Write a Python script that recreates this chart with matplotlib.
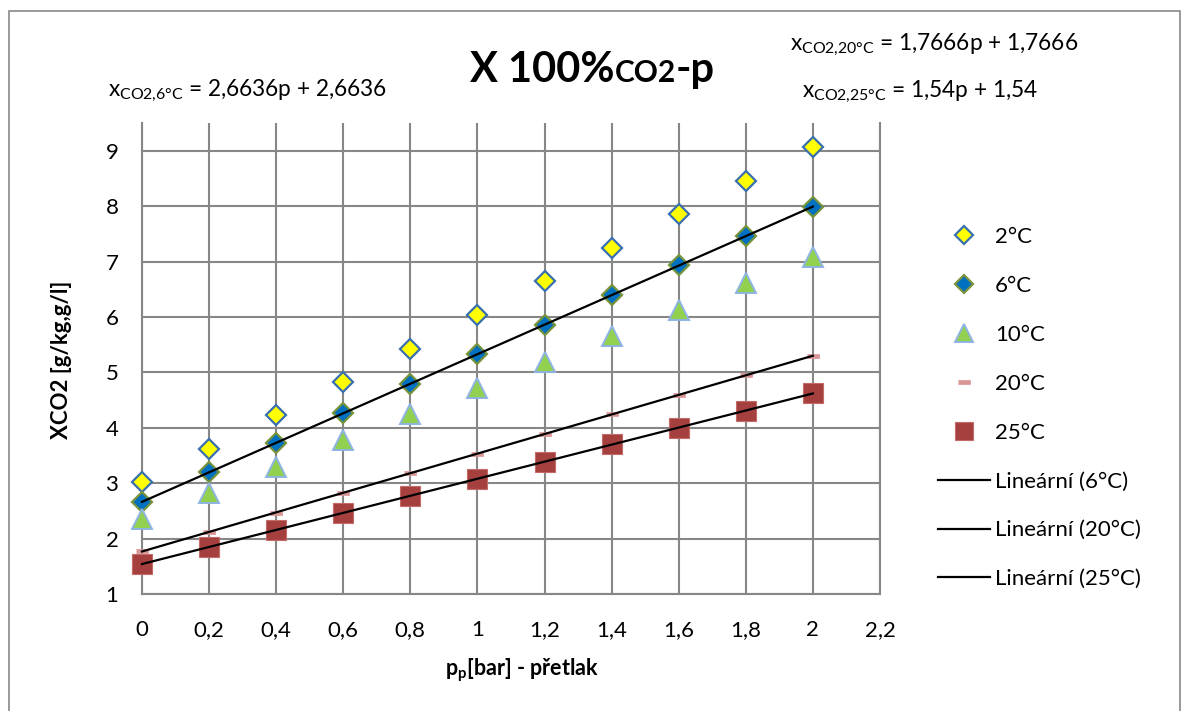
import numpy as np
import matplotlib
matplotlib.use("Agg")
import matplotlib.pyplot as plt
from matplotlib.lines import Line2D
from matplotlib.patches import Rectangle

plt.rcParams["font.family"] = ["Lato", "DejaVu Sans"]
plt.rcParams["mathtext.fontset"] = "custom"
plt.rcParams["mathtext.rm"] = "Lato"
plt.rcParams["mathtext.bf"] = "Lato:bold"
plt.rcParams["mathtext.it"] = "Lato:italic"

# gauge pressure [bar]
pressure = [0, 0.2, 0.4, 0.6, 0.8, 1.0, 1.2, 1.4, 1.6, 1.8, 2.0]
# CO2 content [g/kg, g/l] at each temperature
x_2C = [3.02, 3.62, 4.23, 4.83, 5.43, 6.04, 6.64, 7.24, 7.85, 8.45, 9.06]
x_6C = [2.66, 3.20, 3.73, 4.26, 4.79, 5.33, 5.86, 6.39, 6.93, 7.46, 7.99]
x_10C = [2.36, 2.83, 3.30, 3.78, 4.25, 4.72, 5.19, 5.66, 6.13, 6.61, 7.08]
x_20C = [1.77, 2.12, 2.47, 2.83, 3.18, 3.53, 3.89, 4.24, 4.59, 4.95, 5.30]
x_25C = [1.54, 1.85, 2.16, 2.46, 2.77, 3.08, 3.39, 3.70, 4.00, 4.31, 4.62]

x_ticks = [0, 0.2, 0.4, 0.6, 0.8, 1.0, 1.2, 1.4, 1.6, 1.8, 2.0, 2.2]
x_ticklabels = ["0", "0,2", "0,4", "0,6", "0,8", "1", "1,2", "1,4", "1,6", "1,8", "2", "2,2"]
y_ticks = [1, 2, 3, 4, 5, 6, 7, 8, 9]

W, H = 1181, 711
fig = plt.figure(figsize=(W / 100, H / 100), dpi=100)
ax = fig.add_axes([142 / W, 1 - 594 / H, (880 - 142) / W, (594 - 123) / H])

grid_c = "#878787"
ax.set_xlim(0, 2.2)
ax.set_ylim(1, 9.5)
ax.set_xticks(x_ticks)
ax.set_xticklabels(x_ticklabels)
ax.set_yticks(y_ticks)
ax.grid(True, color=grid_c, lw=1.5, zorder=0)
ax.set_axisbelow(True)
for side in ["left", "right", "bottom"]:
    ax.spines[side].set_color(grid_c)
    ax.spines[side].set_linewidth(1.5)
ax.spines["top"].set_visible(False)
ax.tick_params(length=0, labelsize=16, colors="black")
ax.tick_params(axis="x", pad=19)
ax.tick_params(axis="y", pad=17)

ms_diamond = 10.5
ax.plot(pressure, x_2C, ls="none", marker="D", ms=ms_diamond, mfc="#FFFF00",
        mec="#3A6FB0", mew=1.6, zorder=3, clip_on=False)
ax.plot(pressure, x_6C, ls="none", marker="D", ms=ms_diamond, mfc="#0070C0",
        mec="#77933C", mew=1.6, zorder=3, clip_on=False)
ax.plot(pressure, x_10C, ls="none", marker="^", ms=14, mfc="#92D050",
        mec="#8EB4E3", mew=1.4, zorder=3, clip_on=False)
dash = [(-1, -0.42), (1, -0.42), (1, 0.42), (-1, 0.42)]
ax.plot(pressure, x_20C, ls="none", marker=dash, ms=8.5, mfc="#D99694",
        mec="#D99694", mew=0.5, zorder=3, clip_on=False)
ax.plot(pressure, x_25C, ls="none", marker="s", ms=14.5, mfc="#A5403E",
        mec="#C46A68", mew=0.8, zorder=3, clip_on=False)

# linear trend lines
p_arr = np.array(pressure)
for series in (x_6C, x_20C, x_25C):
    k, q = np.polyfit(p_arr, np.array(series), 1)
    ax.plot([p_arr[0], p_arr[-1]], [q + k * p_arr[0], q + k * p_arr[-1]],
            color="black", lw=1.6, zorder=4, clip_on=False)

# legend
handles = [
    Line2D([], [], ls="none", marker="D", ms=ms_diamond * 0.85, mfc="#FFFF00", mec="#3A6FB0", mew=1.6),
    Line2D([], [], ls="none", marker="D", ms=ms_diamond * 0.85, mfc="#0070C0", mec="#77933C", mew=1.6),
    Line2D([], [], ls="none", marker="^", ms=13, mfc="#92D050", mec="#8EB4E3", mew=1.4),
    Line2D([], [], ls="none", marker=dash, ms=8, mfc="#D99694", mec="#D99694", mew=0.5),
    Line2D([], [], ls="none", marker="s", ms=13, mfc="#A5403E", mec="#C46A68", mew=0.8),
    Line2D([], [], color="black", lw=1.6),
    Line2D([], [], color="black", lw=1.6),
    Line2D([], [], color="black", lw=1.6),
]
labels = ["2°C", "6°C", "10°C", "20°C", "25°C",
          "Lineární (6°C)", "Lineární (20°C)", "Lineární (25°C)"]
fig.legend(handles, labels, loc="upper left", bbox_to_anchor=(938 / W, 1 - 227 / H),
           frameon=False, fontsize=16, borderpad=0, borderaxespad=0,
           handlelength=2.34, handletextpad=0.22, labelspacing=1.30)

# title: X 100%CO2-p
title_y = 1 - 82 / H
t1 = fig.text(470 / W, title_y, "X 100%", fontsize=30, fontweight="bold", va="baseline")
t2 = fig.text(0, 0, "CO2", fontsize=21.5, fontweight="bold", va="baseline")
t3 = fig.text(0, 0, "-p", fontsize=30, fontweight="bold", va="baseline")
fig.canvas.draw()
r = fig.canvas.get_renderer()
bb1 = t1.get_window_extent(r)
t2.set_position((bb1.x1 / W, title_y))
fig.canvas.draw()
bb2 = t2.get_window_extent(r)
t3.set_position((bb2.x1 / W, title_y))

# trend equations
eq_size = 16.3
fig.text(108 / W, 1 - 96 / H, r"x$_{\mathrm{CO2{,}6°C}}$ = 2,6636p + 2,6636", fontsize=eq_size, va="baseline")
fig.text(790 / W, 1 - 50 / H, r"x$_{\mathrm{CO2{,}20°C}}$ = 1,7666p + 1,7666", fontsize=eq_size, va="baseline")
fig.text(802 / W, 1 - 97 / H, r"x$_{\mathrm{CO2{,}25°C}}$ = 1,54p + 1,54", fontsize=eq_size, va="baseline")

# axis titles
fig.text(62 / W, 1 - 360 / H, "XCO2 [g/kg,g/l]", rotation=90, fontsize=16,
         fontweight="bold", ha="center", va="center")
fig.text(522 / W, 1 - 676 / H, r"p$_{\mathbf{p}}$[bar] - přetlak", fontsize=15.5,
         fontweight="bold", ha="center", va="baseline")

# chart frame
fig.patches.append(Rectangle((9 / W, -0.02), (1180 - 9) / W, 1 - 11 / H + 0.02,
                             transform=fig.transFigure, fill=False,
                             edgecolor="#898989", lw=1.2))

fig.savefig("out.png", dpi=100)
